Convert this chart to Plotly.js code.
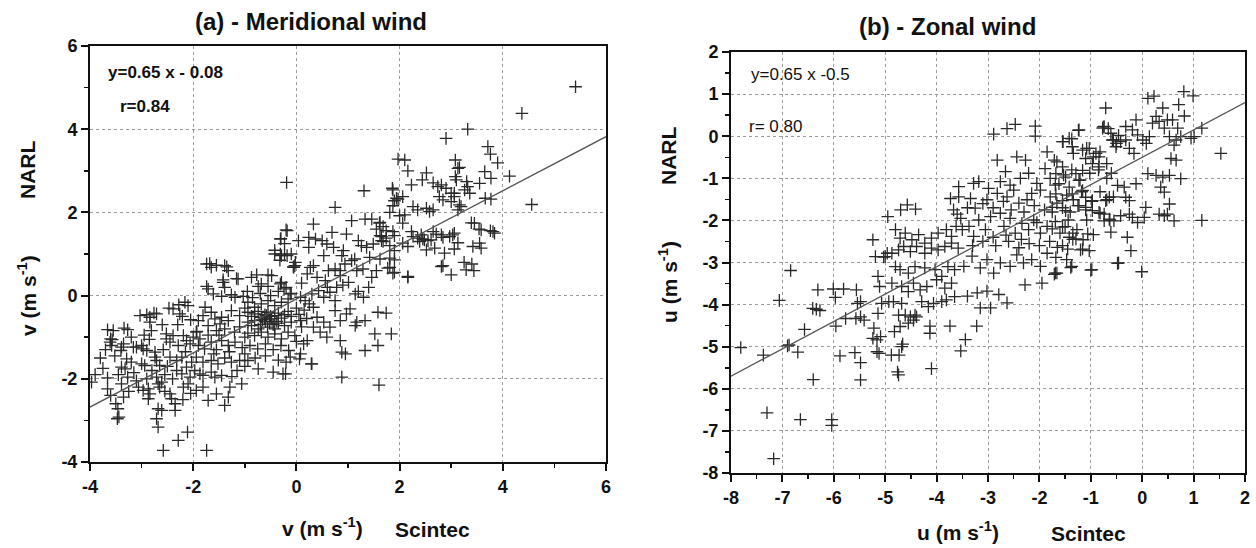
<!DOCTYPE html>
<html>
<head>
<meta charset="utf-8">
<script src="https://cdn.plot.ly/plotly-3.0.1.min.js"></script>
<style>html,body{margin:0;padding:0;background:#fff;}#chart{width:1256px;height:548px;}</style>
</head>
<body>
<div id="chart"></div>
<script>
// ---- Data ----
// Panel (a) Meridional wind: [Scintec v, NARL v]
const meridionalPairs = [
[-3.97,-2.08],[-3.66,-1.98],[-3.66,-2.24],[-3.46,-2.72],[-3.47,-2.96],[-3.44,-2.92],[-3.6,-1.04],[-3.61,-1.12],[-3.58,-1.2],[-3.55,-0.84],[-3.27,-0.82],[-3.39,-1.24],[-3.4,-1.32],[-3.35,-1.16],[-3.29,-1.52],[-3.39,-1.72],[-3.32,-1.76],[-3.27,-1.96],[-3.39,-2.12],[-3.35,-2.44],[-3.16,-1.24],[-3.1,-1.24],[-3.0,-1.2],[-2.97,-1.28],[-2.9,-1.32],[-3.03,-0.48],[-3.0,-1.64],[-2.94,-1.68],[-3.06,-2.2],[-3.66,-0.82],[-3.57,-1.06],[-3.34,-0.78],[-3.8,-1.5],[-3.75,-1.75],[-3.52,-1.45],[-3.45,-1.9],[-3.2,-1.6],[-3.15,-1.85],[-3.1,-2.05],[-3.6,-2.4],[-3.5,-2.6],[-3.25,-2.3],[-3.9,-1.9],[-3.7,-1.3],[-3.2,-1.0],
[-2.84,-0.52],[-2.71,-0.44],[-2.84,-0.64],[-2.81,-0.84],[-2.52,-0.92],[-2.39,-0.32],[-2.26,-0.44],[-2.16,-0.16],[-2.1,-0.24],[-2.97,-2.28],[-2.87,-2.24],[-2.84,-2.36],[-2.87,-2.48],[-2.74,-1.48],[-2.71,-1.56],[-2.65,-1.68],[-2.74,-1.36],[-2.71,-1.96],[-2.68,-2.12],[-2.65,-2.2],[-2.61,-2.08],[-2.45,-2.36],[-2.42,-2.48],[-2.35,-2.6],[-2.35,-2.76],[-2.68,-2.72],[-2.61,-2.76],[-2.71,-2.96],[-2.68,-3.16],[-2.58,-3.72],[-2.29,-3.48],[-2.11,-3.28],[-1.74,-3.72],
[-2.52,-1.04],[-2.45,-1.12],[-2.39,-0.96],[-2.29,-1.2],[-2.19,-0.96],[-2.13,-1.08],[-2.06,-1.16],[-2.0,-1.0],[-1.94,-0.88],[-1.87,-1.04],
[-2.45,-1.48],[-2.32,-1.56],[-2.22,-1.48],[-2.13,-1.72],[-2.03,-1.6],[-1.94,-1.48],[-2.32,-1.8],[-2.22,-1.88],[-2.06,-1.96],[-1.97,-1.8],[-1.87,-1.88],[-2.19,-2.2],[-2.1,-2.12],[-1.94,-2.28],[-1.81,-2.2],
[-2.9,-0.46],[-2.76,-0.42],[-2.47,-0.3],[-2.28,-0.22],[-2.21,-0.5],[-2.05,-0.58],[-1.93,-0.86],[-2.58,-1.3],[-2.5,-1.7],[-2.4,-2.0],[-2.85,-1.05],[-2.95,-0.95],[-2.6,-0.7],[-2.3,-0.7],[-2.15,-1.35],[-2.55,-1.9],[-2.8,-1.8],[-2.9,-2.0],[-2.55,-2.3],[-2.2,-2.5],[-2.05,-2.35],
[-1.71,-2.52],[-1.55,-2.36],[-1.39,-2.64],[-1.32,-2.44],[-1.29,-2.2],[-1.06,-2.12],[-1.81,-1.92],[-1.65,-1.84],[-1.58,-1.96],[-1.45,-1.92],
[-1.74,0.76],[-1.65,0.68],[-1.39,0.72],[-1.32,0.6],[-1.71,0.16],[-1.61,0.04],[-1.42,0.32],[-1.39,0.2],[-1.19,-0.04],[-1.13,0.4],
[-1.77,-0.28],[-1.65,-0.4],[-1.58,-0.56],[-1.48,-0.68],[-1.39,-0.8],[-1.68,0.77],[-1.55,0.73],[-1.35,0.69],[-1.16,0.41],[-1.74,0.22],[-1.42,0.38],[-1.45,-0.02],[-1.26,0.02],[-1.03,-0.02],
[-1.9,-0.6],[-1.81,-0.48],[-1.71,-0.72],[-1.55,-0.84],[-1.45,-0.52],[-1.32,-0.6],[-1.26,-0.36],[-1.1,-0.48],[-1.0,-0.3],
[-1.9,-1.2],[-1.78,-1.28],[-1.65,-1.12],[-1.55,-1.3],[-1.45,-1.08],[-1.32,-1.2],[-1.19,-1.12],[-1.0,-1.0],
[-1.81,-1.6],[-1.65,-1.56],[-1.52,-1.64],[-1.39,-1.5],[-1.26,-1.6],[-1.1,-1.56],[-1.0,-1.4],
[-1.71,-0.95],[-1.5,-0.95],[-1.2,-0.88],[-1.1,-0.75],[-1.05,-1.25],[-1.3,-1.35],[-1.6,-1.4],[-1.15,-1.8],[-1.25,-1.95],[-1.0,-1.7],
[-0.87,0.44],[-0.68,0.28],[-0.48,0.48],[-0.29,0.32],[-0.42,1.0],[-0.29,0.96],[-0.1,1.0],[-0.03,0.72],[-0.77,0.5],[-0.55,0.5],[-0.74,0.22],[-0.55,0.22],[-0.2,1.58],[-0.3,1.37],[-0.42,1.09],[-0.23,0.97],[-0.32,0.85],[-0.06,0.69],[-0.23,1.25],[-0.19,2.72],
[-0.94,-1.56],[-0.74,-1.76],[-0.45,-1.84],[-0.26,-1.88],[0.06,-1.52],[0.29,-1.64],
[-0.94,-0.16],[-0.81,-0.28],[-0.68,-0.2],[-0.55,-0.12],[-0.42,-0.24],[-0.29,-0.16],[-0.16,-0.08],
[-0.94,-0.4],[-0.87,-0.5],[-0.81,-0.44],[-0.74,-0.38],[-0.68,-0.52],[-0.61,-0.46],[-0.55,-0.4],[-0.48,-0.56],[-0.42,-0.48],[-0.35,-0.42],[-0.29,-0.54],[-0.23,-0.46],[-0.16,-0.38],[-0.1,-0.5],[-0.6,-0.62],[-0.66,-0.58],[-0.52,-0.66],[-0.7,-0.7],[-0.56,-0.76],[-0.45,-0.7],[-0.38,-0.62],[-0.62,-0.54],[-0.58,-0.48],[-0.5,-0.5],
[-0.94,-0.64],[-0.87,-0.72],[-0.81,-0.6],[-0.74,-0.8],[-0.42,-0.8],[-0.35,-0.66],[-0.23,-0.72],[-0.1,-0.64],
[-0.94,-0.9],[-0.81,-0.96],[-0.68,-0.88],[-0.55,-1.0],[-0.42,-0.92],[-0.29,-1.04],[-0.16,-0.88],[-0.03,-0.96],
[-0.9,-1.2],[-0.75,-1.28],[-0.6,-1.16],[-0.45,-1.3],[-0.3,-1.2],[-0.15,-1.32],[0.0,-1.1],[-0.8,-1.5],[-0.6,-1.45],[-0.35,-1.55],[-0.2,-1.6],
[-0.95,0.1],[-0.7,0.05],[-0.5,0.0],[-0.35,0.1],[-0.2,0.2],[-0.1,0.05],[-0.85,-0.05],
[-0.31,0.28],[-0.24,0.16],[-0.12,0.04],[0.08,-0.04],[0.17,-0.12],[0.3,0.04],[0.43,0.12],[0.53,-0.04],[0.65,0.08],[0.78,0.2],[0.75,-0.12],
[0.33,-0.28],[0.4,-0.52],[0.53,-0.64],[0.65,-0.76],[0.75,-0.36],[0.85,-0.6],[0.97,-0.44],[0.33,-0.76],[0.46,-0.88],[0.59,-1.0],[0.21,-1.08],[0.14,-1.16],[0.08,-1.4],[-0.12,-1.48],[-0.21,-1.88],[0.3,-1.64],[0.88,-1.96],[0.88,-1.36],[0.95,-1.4],[0.85,-1.08],
[0.08,-0.6],[0.0,-0.3],[0.05,-0.45],[0.15,-0.35],[0.2,-0.55],[0.1,-0.75],[0.25,-0.2],
[-0.31,1.36],[-0.31,1.0],[-0.18,0.96],[-0.05,0.68],[-0.02,0.8],[0.24,1.16],[0.33,0.72],[0.27,0.68],[0.21,0.52],[0.4,0.44],[0.56,0.36],[0.62,0.6],[0.75,0.64],[0.85,0.48],
[0.04,1.32],[0.24,1.4],[0.37,1.36],[0.5,1.32],[0.59,1.24],[0.53,0.96],[0.72,1.16],[0.91,1.08],[0.88,0.96],[-0.18,1.56],[0.33,1.72],[0.69,1.52],[0.97,1.48],[0.75,2.12],[0.85,0.6],[0.94,0.76],[0.1,0.3],[0.6,0.2],[0.9,0.25],
[1.07,1.8],[1.31,2.52],[1.2,1.32],[1.26,1.2],[1.36,1.16],[1.42,0.92],[1.62,0.88],[1.81,0.68],[1.9,0.56],[2.16,0.44],[1.46,0.44],[1.29,0.64],[1.01,0.32],[1.17,0.6],[1.07,0.84],[1.13,0.88],
[1.14,0.04],[1.3,-0.04],[1.58,-0.4],[1.74,-0.42],[1.04,-0.32],[1.33,-0.6],[1.17,-0.64],[1.14,-0.72],[1.52,-0.92],[1.84,-0.92],[1.58,-1.2],[1.33,-1.32],[1.6,-2.15],
[1.33,1.84],[1.46,1.84],[1.62,1.76],[1.55,1.6],[1.62,1.44],[1.74,1.56],[1.9,1.44],[1.65,1.32],[1.81,1.2],[1.9,1.08],[1.49,1.24],
[1.87,2.54],[1.9,2.28],[1.97,2.32],[1.87,2.16],[1.81,2.0],[2.0,1.92],[1.61,1.74],[1.68,1.66],[1.65,1.42],[1.68,1.3],[1.74,1.38],[1.87,1.54],[1.81,0.9],[1.9,0.86],[1.77,0.66],[1.87,0.54],[1.4,0.2],[1.2,0.1],[1.55,0.6],
[1.97,3.28],[2.1,3.26],[2.16,3.0],[2.52,2.95],[2.44,2.78],[2.23,2.66],[1.86,2.58],[1.94,2.34],[2.06,2.38],[2.65,2.71],[2.74,2.62],[2.81,2.66],[2.9,2.58],[3.0,2.46],[3.06,2.46],[3.26,2.54],[3.32,2.62],[3.36,2.46],[3.3,2.74],[3.16,2.18],[3.13,2.06],[3.19,2.14],[2.84,2.3],[2.77,2.38],[3.0,2.26],[3.06,2.38],[2.26,2.14],[2.35,2.06],[2.52,2.1],[2.58,2.02],[2.65,2.06],[2.1,1.94],[2.06,1.74],[2.23,1.54],[2.42,1.46],[2.48,1.34],[2.65,1.54],[2.81,1.46],[2.97,1.42],[3.06,1.5],[3.39,1.75],[3.45,1.74],[3.58,1.58],[3.81,1.54],[3.84,1.5],[3.55,1.26],[3.58,1.14],[3.42,1.18],[3.13,1.27],[3.03,1.46],[2.87,1.02],[2.68,1.14],[2.81,0.7],[3.0,0.5],[3.29,0.62],[3.44,0.6],[2.16,0.46],[2.26,1.42],[2.35,1.38],[2.16,1.18],[2.06,1.26],[2.52,1.1],[2.61,1.34],[2.39,1.3],
[3.71,3.58],[3.76,3.4],[3.9,3.19],[3.65,2.98],[3.77,2.82],[3.55,2.7],[3.66,2.34],[3.77,2.32],[3.08,3.26],[3.13,3.06],[3.16,3.08],[3.08,2.86],[3.1,2.78],[2.9,3.78],[3.32,4.0],[4.13,2.87],[4.56,2.19],[4.37,4.38],[5.41,5.02],
[2.45,1.36],[2.55,1.32],[2.71,1.48],[2.84,1.4],[2.84,0.72],[3.25,0.8],[3.4,0.76],[3.06,1.12],[3.54,1.6],[3.76,1.56]
];
// Panel (b) Zonal wind: [Scintec u, NARL u]
const zonalPairs = [
[-7.81,-5.02],[-7.37,-5.2],[-7.3,-6.57],[-7.17,-7.66],[-7.06,-3.9],[-6.84,-3.19],[-6.9,-4.98],[-6.87,-4.96],[-6.7,-5.13],[-6.65,-6.73],[-6.57,-4.59],[-6.4,-5.78],[-6.41,-4.09],[-6.34,-4.11],[-6.27,-4.14],[-6.31,-3.65],[-6.01,-3.63],[-5.97,-3.83],[-5.81,-3.63],[-5.56,-3.65],[-6.04,-6.73],[-6.04,-6.87],
[-5.96,-4.51],[-5.77,-4.33],[-5.57,-4.33],[-5.48,-4.29],[-5.41,-4.37],[-5.54,-3.97],[-5.48,-3.93],[-5.88,-5.22],[-5.59,-5.14],[-5.48,-5.38],[-5.48,-5.79],
[-5.24,-2.46],[-5.19,-2.86],[-5.03,-2.87],[-4.96,-2.78],[-5.14,-3.33],[-5.11,-3.57],[-5.07,-3.97],[-5.14,-4.21],[-5.22,-4.56],[-5.24,-4.8],[-5.16,-4.84],[-5.09,-4.76],[-5.16,-5.12],[-5.12,-5.16],
[-4.88,-5.2],[-4.73,-5.2],[-4.76,-5.6],[-4.74,-5.67],[-4.68,-5.0],[-4.66,-4.94],[-4.82,-4.64],[-4.71,-4.52],[-4.55,-4.44],[-4.45,-4.37],[-4.39,-4.29],[-4.13,-4.51],[-4.13,-4.68],[-4.1,-5.52],[-3.74,-4.51],
[-4.93,-3.93],[-4.84,-3.93],[-4.68,-3.97],[-4.74,-4.25],[-4.61,-4.25],[-4.51,-4.29],[-4.42,-4.25],[-4.29,-3.93],[-4.16,-4.05],[-4.06,-3.97],[-3.9,-3.93],[-3.81,-3.89],
[-4.87,-3.49],[-4.68,-3.57],[-4.55,-3.69],[-4.45,-3.49],[-4.32,-3.65],[-4.19,-3.57],[-4.0,-3.41],[-3.84,-3.61],[-3.71,-3.49],[-3.65,-3.81],
[-4.8,-3.1],[-4.71,-3.17],[-4.55,-3.25],[-4.42,-3.1],[-4.23,-3.13],[-4.03,-3.17],[-3.9,-3.33],[-3.78,-3.1],[-3.65,-3.17],
[-5.0,-2.86],[-4.87,-2.78],[-4.74,-2.7],[-4.64,-2.62],[-4.51,-2.74],[-4.39,-2.62],[-4.23,-2.78],[-4.1,-2.66],[-3.97,-2.7],[-3.84,-2.62],[-3.71,-2.54],[-3.58,-2.66],
[-4.8,-2.22],[-4.71,-2.42],[-4.61,-2.3],[-4.48,-2.46],[-4.35,-2.34],[-4.23,-2.54],[-4.1,-2.42],[-3.97,-2.3],[-3.81,-2.22],[-3.71,-2.38],[-3.62,-2.14],
[-4.95,-1.91],[-3.67,-1.75],
[-2.89,0.05],[-2.63,0.18],[-2.47,0.28],[-2.08,0.24],[-2.08,0.0],[-1.54,-0.13],[-1.37,-0.06],[-1.24,0.14],[-0.76,0.22],[-0.66,0.18],[-0.56,-0.09],[-0.5,-0.17],[-0.46,0.02],
[-2.82,-0.57],[-2.44,-0.49],[-2.27,-0.57],[-1.85,-0.37],[-1.66,-0.61],[-1.34,-0.41],[-1.08,-0.29],[-0.95,-0.49],[-0.82,-0.37],[-0.69,-0.65],
[-2.66,-0.84],[-2.76,-1.08],[-2.57,-1.16],[-2.37,-1.0],[-2.21,-0.88],[-2.05,-1.12],[-1.89,-0.77],[-1.79,-1.0],[-1.69,-1.16],[-1.53,-0.92],[-1.37,-0.8],[-1.21,-1.04],[-1.02,-0.88],[-0.85,-0.8],[-0.69,-1.0],[-0.6,-0.88],
[-3.57,-1.2],[-3.28,-1.12],[-3.18,-1.08],[-3.73,-1.48],[-3.57,-1.44],[-3.34,-1.48],[-3.25,-1.71],[-3.02,-1.51],[-2.99,-1.24],[-2.82,-1.36],[-2.63,-1.44],[-2.5,-1.28],[-2.4,-1.59],[-2.24,-1.51],[-2.15,-1.36],[-1.98,-1.28],[-1.79,-1.44],[-1.66,-1.59],[-1.47,-1.4],[-1.34,-1.51],[-1.18,-1.32],[-0.98,-1.55],[-0.82,-1.32],[-0.69,-1.51],[-0.56,-1.44],[-0.63,-1.99],[-0.82,-1.83],
[-4.7,-1.75],[-4.57,-1.63],[-4.41,-1.73],
[-3.53,-1.95],[-3.5,-2.22],[-3.37,-2.14],[-3.28,-2.38],[-3.18,-1.99],[-3.05,-2.22],[-2.95,-1.91],[-2.76,-1.83],[-2.69,-2.14],[-2.57,-1.95],[-2.47,-2.3],[-2.34,-2.07],[-2.21,-2.22],[-2.11,-1.99],[-1.98,-2.3],[-1.85,-2.14],[-1.69,-2.03],[-1.6,-2.3],[-1.44,-1.99],[-1.27,-2.22],[-1.15,-2.46],[-1.08,-1.99],[-0.95,-2.34],
[-3.47,-3.09],[-3.31,-2.85],[-3.15,-3.13],[-3.02,-2.93],[-2.89,-3.25],[-2.76,-3.01],[-2.57,-3.09],[-2.44,-2.82],[-2.31,-3.01],[-2.15,-2.93],[-1.98,-3.09],[-1.85,-2.78],[-1.66,-3.25],[-1.47,-2.93],[-1.37,-3.09],[-0.98,-3.17],[-0.46,-3.01],
[-3.4,-3.8],[-3.21,-3.72],[-3.02,-3.68],[-2.79,-3.76],[-2.63,-3.96],[-2.28,-3.53],[-1.95,-3.49],[-1.69,-3.25],
[-3.44,-4.83],[-3.53,-5.1],[-3.22,-4.51],[-3.15,-4.08],[-2.95,-4.08],
[-3.6,-1.85],[-3.4,-1.7],[-3.1,-1.6],[-2.9,-1.7],[-2.7,-1.55],[-2.55,-1.75],[-2.3,-1.8],[-2.1,-1.65],[-1.9,-1.75],[-1.75,-1.8],[-1.55,-1.7],[-1.4,-1.8],[-1.25,-1.65],[-1.1,-1.75],
[-3.3,-2.6],[-3.1,-2.5],[-2.85,-2.6],[-2.6,-2.5],[-2.4,-2.65],[-2.2,-2.55],[-2.0,-2.6],[-1.8,-2.5],[-1.55,-2.6],[-1.35,-2.45],[-1.2,-2.7],[-2.9,-2.4],[-2.65,-2.35],[-2.35,-2.45],[-2.05,-2.05],[-1.75,-2.2],[-1.5,-2.15],[-1.35,-2.3],
[0.81,1.06],[0.99,0.96],[0.71,0.75],[0.82,0.48],[1.16,0.19],[1.53,-0.41],[1.16,-2.0],
[0.11,0.9],[0.23,0.95],[0.4,0.67],[0.27,0.47],[0.33,0.35],[0.2,0.31],[0.43,0.19],[0.49,0.39],[0.59,0.39],[0.69,0.19],[0.53,-0.01],[0.66,-0.09],[0.62,-0.21],[0.75,-0.01],[0.95,-0.05],[1.01,-0.01],
[-0.71,0.67],[-0.12,0.39],[-0.32,0.23],[-0.19,0.15],[-0.09,0.03],[0.08,-0.17],[0.14,-0.01],[0.01,-0.09],
[0.11,-0.89],[0.27,-0.93],[0.4,-0.97],[0.53,-0.93],[0.75,-1.01],[0.56,-0.53],[0.66,-0.57],[0.36,-1.21],[0.43,-1.33],[0.53,-1.61],[0.49,-1.85],[0.33,-1.85],[0.43,-1.89],[0.62,-2.01],
[0.07,-1.69],[0.04,-1.93],[-0.09,-2.05],[-0.19,-1.93],[-0.25,-1.85],[-0.42,-1.89],[-0.55,-2.01],[-0.64,-1.97],[-0.74,-1.85],[-0.84,-1.81],[-0.74,-2.01],
[-0.29,-2.4],[-0.22,-2.72],[-0.61,-2.28],[-0.48,-3.02],[-1.0,-3.18],[-0.01,-3.22],[-1.39,-3.12],[-1.71,-3.28],
[-0.77,0.19],[-0.74,0.23],[-0.61,0.07],[-0.58,-0.09],[-0.51,-0.25],[-0.42,-0.13],[-0.32,-0.09],[-0.25,-0.29],[-0.16,-0.41],
[-0.48,-1.17],[-0.35,-1.21],[-0.32,-1.45],[-0.25,-1.53],[-0.12,-1.13],[-0.71,-1.53],[-0.64,-1.45],
[-1.23,0.15],[-1.42,-0.05],[-1.55,-0.13],[-1.36,-0.25],[-1.16,-0.33],[-1.03,-0.29],[-0.9,-0.41],[-0.84,-0.49],[-1.1,-0.53],[-0.97,-0.65],[-0.84,-0.73],[-1.16,-0.81],[-1.29,-0.89],
[-1.71,-0.57],[-1.55,-0.73],[-1.68,-0.89],[-1.49,-0.97],[-1.62,-1.13],[-1.42,-1.21],[-1.23,-1.05],[-1.36,-1.37],[-1.16,-1.29],[-1.1,-1.45],[-0.97,-1.53],[-1.23,-1.65],[-1.1,-1.69],[-0.97,-1.77],[-1.68,-1.37],[-1.55,-1.53],[-1.49,-1.77],[-1.75,-1.69],
[-1.55,-2.16],[-1.42,-2.4],[-1.29,-2.44],[-1.16,-2.68],[-1.03,-2.72],[-1.65,-2.64],[-1.68,-2.88],[-1.45,-2.68],[-1.06,-2.32]
];
// Fitted lines as printed on the panels (end points on the axis range)
const fitAX = [-4, 6], fitAY = [-2.68, 3.82];
const fitBX = [-8, 2], fitBY = [-5.7, 0.8];
// Tick labels
const tickValsA = [-4, -2, 0, 2, 4, 6];
const tickTextA = ['-4', '-2', '0', '2', '4', '6'];
const tickValsB = [-8, -7, -6, -5, -4, -3, -2, -1, 0, 1, 2];
const tickTextB = ['-8', '-7', '-6', '-5', '-4', '-3', '-2', '-1', '0', '1', '2'];

const W = 1256, H = 548;
const PX = v => v / W, PY = v => 1 - v / H;
const FONT = 'Liberation Sans, Arial, Helvetica, sans-serif';
const INK = '#111';
const bold = arr => arr.map(t => '<b>' + t + '</b>');

const mark = {symbol: 'cross-thin', size: 9, color: '#2a2a2a', line: {width: 1.3, color: '#2a2a2a'}};
const traces = [
  {type: 'scatter', mode: 'markers', x: meridionalPairs.map(p => p[0]), y: meridionalPairs.map(p => p[1]), marker: mark, xaxis: 'x', yaxis: 'y', hoverinfo: 'skip'},
  {type: 'scatter', mode: 'lines', x: fitAX, y: fitAY, line: {color: '#555', width: 1.3}, xaxis: 'x', yaxis: 'y', hoverinfo: 'skip'},
  {type: 'scatter', mode: 'markers', x: zonalPairs.map(p => p[0]), y: zonalPairs.map(p => p[1]), marker: mark, xaxis: 'x2', yaxis: 'y2', hoverinfo: 'skip'},
  {type: 'scatter', mode: 'lines', x: fitBX, y: fitBY, line: {color: '#555', width: 1.3}, xaxis: 'x2', yaxis: 'y2', hoverinfo: 'skip'}
];

function ax(extra) {
  return Object.assign({
    showline: true, linecolor: INK, linewidth: 2, mirror: true,
    ticks: 'outside', ticklen: 7, tickwidth: 2, tickcolor: INK,
    showgrid: true, gridcolor: '#9c9c9c', griddash: 'dot', gridwidth: 1,
    zeroline: false, fixedrange: true, tickmode: 'array',
    tickfont: {family: FONT, size: 18, color: INK}
  }, extra);
}
const minorA = {tickmode: 'linear', tick0: 0, dtick: 1, ticklen: 4, tickwidth: 1.5, tickcolor: INK, showgrid: false};
const minorB = {tickmode: 'linear', tick0: 0, dtick: 0.5, ticklen: 4, tickwidth: 1.5, tickcolor: INK, showgrid: false};

function ann(text, x, y, size, extra) {
  return Object.assign({text: text, x: PX(x), y: PY(y), xref: 'paper', yref: 'paper', showarrow: false,
    xanchor: 'center', yanchor: 'middle',
    font: {family: FONT, size: size, color: INK}}, extra || {});
}

const layout = {
  width: W, height: H, margin: {l: 0, r: 0, t: 0, b: 0},
  paper_bgcolor: '#fff', plot_bgcolor: '#fff', showlegend: false,
  font: {family: FONT, color: INK},
  xaxis: ax({domain: [PX(90), PX(606)], range: [-4, 6], tickvals: tickValsA, ticktext: bold(tickTextA), minor: minorA, anchor: 'y'}),
  yaxis: ax({domain: [PY(462), PY(46)], range: [-4, 6], tickvals: tickValsA, ticktext: bold(tickTextA), minor: minorA, anchor: 'x'}),
  xaxis2: ax({domain: [PX(731), PX(1245)], range: [-8, 2], tickvals: tickValsB, ticktext: bold(tickTextB), minor: minorB, anchor: 'y2'}),
  yaxis2: ax({domain: [PY(473), PY(52)], range: [-8, 2], tickvals: tickValsB, ticktext: bold(tickTextB), minor: minorB, anchor: 'x2'}),
  annotations: [
    ann('<b>(a) - Meridional wind</b>', 311, 21, 24),
    ann('<b>(b) - Zonal wind</b>', 947, 27, 24),
    ann('<b>y=0.65 x - 0.08</b>', 106, 72, 17, {xanchor: 'left'}),
    ann('<b>r=0.84</b>', 118, 106, 17, {xanchor: 'left'}),
    ann('y=0.65 x -0.5', 749, 74, 17, {xanchor: 'left'}),
    ann('r= 0.80', 747, 127, 17, {xanchor: 'left'}),
    ann('<b>v (m s<sup>-1</sup>)</b>', 322, 527, 21),
    ann('<b>Scintec</b>', 432, 529, 21),
    ann('<b>u (m s<sup>-1</sup>)</b>', 958, 531, 21),
    ann('<b>Scintec</b>', 1088, 533, 21),
    ann('<b>v (m s<sup>-1</sup>)</b>', 27, 296, 21, {textangle: -90}),
    ann('<b>NARL</b>', 27, 170, 21, {textangle: -90}),
    ann('<b>u (m s<sup>-1</sup>)</b>', 668, 282, 21, {textangle: -90}),
    ann('<b>NARL</b>', 668, 156, 21, {textangle: -90})
  ]
};

Plotly.newPlot('chart', traces, layout, {staticPlot: true, displayModeBar: false});
</script>
</body>
</html>
